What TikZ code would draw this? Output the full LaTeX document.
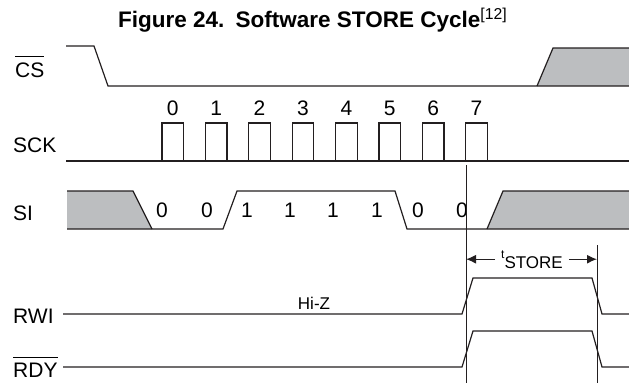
\documentclass[tikz,border=0pt]{standalone}
\usepackage{fontspec}
\setmainfont{Liberation Sans}
\usepackage{tikz}
\usepackage{xcolor}
\usetikzlibrary{arrows.meta}
\definecolor{wireblack}{HTML}{231F20}
\definecolor{dontcare}{HTML}{BCBEC0}
\newcommand{\barsig}[1]{\leavevmode\vbox{\hrule height 1pt\kern 5pt\hbox{#1}}}
\tikzset{
        sig_name/.style={anchor=base west, inner sep=0pt, font=\fontsize{21}{25}\selectfont},
        bit_num/.style={anchor=base, inner sep=0pt, font=\fontsize{21}{25}\selectfont},
        wave/.style={draw=wireblack, line width=1.2pt, line join=miter},
        dc_fill/.style={fill=dontcare},
        time_mark/.style={draw=wireblack, line width=1pt},
        time_arrow/.style={draw=wireblack, line width=1.2pt, -{Latex[length=10pt,width=9pt]}}
    }

\begin{document}
\begin{tikzpicture}[x=1pt, y=-1pt]
    \useasboundingbox (0,0) rectangle (629,383);
    \node[anchor=base west, inner sep=0pt, font=\bfseries\fontsize{22.5}{26}\selectfont] (title)
        at (118,27) {Figure 24.\hspace{0.5em}Software STORE Cycle{\mdseries\textsuperscript{[12]}}};
    % signal names
    \node[sig_name] (cs)  at (15,77)  {\barsig{CS}};
    \node[sig_name] (sck) at (13,152) {SCK};
    \node[sig_name] (si)  at (13,220) {SI};
    \node[sig_name] (rwi) at (13,323) {RWI};
    \node[sig_name] (rdy) at (13,377) {\barsig{RDY}};
    % CS
    \fill[dc_fill] (537,86) -- (553,48) -- (629,48) -- (629,86) -- cycle;
    \draw[wave] (66,46) -- (94,46) -- (108,86) -- (629,86);
    \draw[wave] (537,86) -- (553,48) -- (629,48);
    % SCK
    \draw[wave] (66,161) -- (629,161);
    \foreach \i in {0,...,7} {
        \pgfmathsetmacro{\r}{162+43.4*\i}
        \draw[wave] (\r,161) -- (\r,123) -- (\r+21.5,123) -- (\r+21.5,161);
        \node[bit_num] (clk\i) at (\r+10.75,115) {\i};
    }
    % SI
    \fill[dc_fill] (67,191) -- (133,191) -- (152,229) -- (67,229) -- cycle;
    \fill[dc_fill] (487,229) -- (503,191) -- (629,191) -- (629,229) -- cycle;
    \draw[wave] (67,191) -- (133,191) -- (152,229);
    \draw[wave] (67,229) -- (223,229) -- (237,191) -- (395,191) -- (407,229) -- (629,229);
    \draw[wave] (487,229) -- (503,191) -- (629,191);
    \foreach \b/\x [count=\k] in {0/162,0/207,1/247,1/290,1/333,1/377,0/418,0/462}
        \node[bit_num] (bit\k) at (\x,217) {\b};
    % RWI and RDY
    \draw[wave] (63,314) -- (462,314) -- (473,278) -- (592,278) -- (602,314) -- (629,314);
    \draw[wave] (63,367) -- (462,367) -- (473,331) -- (592,331) -- (602,367) -- (629,367);
    \node[anchor=base, inner sep=0pt, font=\fontsize{17}{20}\selectfont] (hiz) at (314,309) {Hi-Z};
    % tSTORE
    \coordinate (start_top) at (466,165);
    \coordinate (start_bot) at (466,383);
    \coordinate (end_top) at (597,245);
    \coordinate (end_bot) at (597,383);
    \draw[time_mark] (start_top) -- (start_bot);
    \draw[time_mark] (end_top) -- (end_bot);
    \node[anchor=base west, inner xsep=6pt, inner ysep=0pt] (tstore) at (495,258)
        {\fontsize{12}{14}\selectfont t\raisebox{-10pt}{\fontsize{17}{20}\selectfont STORE}};
    \draw[time_arrow] (tstore.west) -- (tstore.west -| start_top);
    \draw[time_arrow] (tstore.east) -- (tstore.east -| end_top);
\end{tikzpicture}
\end{document}
